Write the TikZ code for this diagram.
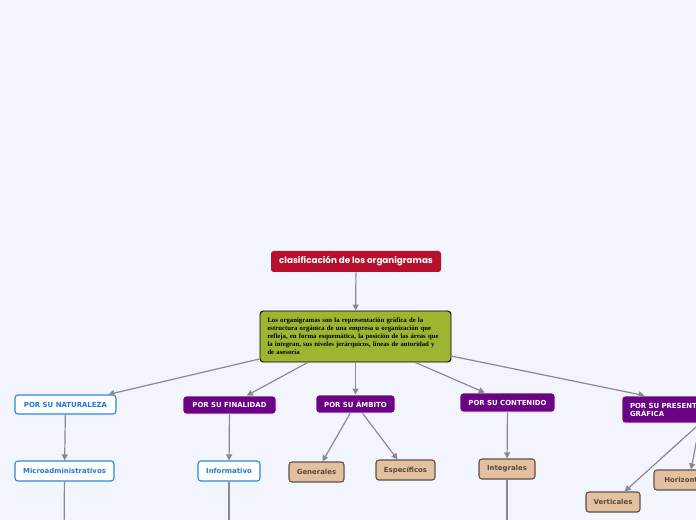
\documentclass[tikz,border=0pt]{standalone}
\usepackage{fontspec}
\setmainfont{DejaVu Sans}
\newfontfamily\serifbold{Liberation Serif}
\newfontfamily\titlefont{Poppins}
\usetikzlibrary{arrows.meta}
\definecolor{bgcol}{HTML}{F2F5FE}
\definecolor{titlered}{HTML}{B7102E}
\definecolor{olive}{HTML}{9DB530}
\definecolor{purp}{HTML}{6A0485}
\definecolor{nodeblue}{HTML}{2A86E2}
\definecolor{textblue}{HTML}{1C78D6}
\definecolor{tanfill}{HTML}{E3C09F}
\definecolor{tanborder}{HTML}{5E5045}
\definecolor{tantext}{HTML}{56483C}
\definecolor{linegrey}{HTML}{8A8A8E}
\tikzset{
  box/.style={rounded corners=2.2pt, font=\fontsize{5.2}{6.4}\selectfont\bfseries, inner sep=0pt, align=center},
  bluebox/.style={box, draw=nodeblue, line width=0.8pt, fill=white, text=textblue},
  purpbox/.style={box, fill=purp, draw=white, line width=0.6pt, text=white},
  tanbox/.style={box, fill=tanfill, draw=tanborder, line width=0.8pt, text=tantext},
  conn/.style={draw=linegrey, line width=0.9pt, -{Triangle[length=4.5pt,width=4.5pt]}},
  plain/.style={draw=linegrey, line width=0.9pt},
}
\begin{document}
\begin{tikzpicture}[x=0.75pt,y=-0.75pt]
\fill[bgcol] (0,0) rectangle (696,520);
\useasboundingbox (0,0) rectangle (696,520);
\clip (0,0) rectangle (696,520);

\node[fill=titlered, rounded corners=2pt, minimum width=170*0.75pt, minimum height=21*0.75pt, inner sep=0pt,
  text=white, font=\titlefont\bfseries\fontsize{6.6}{8}\selectfont] (title) at (356,261.5) {clasificación de los organigramas};

\node[fill=olive, draw=black, line width=0.7pt, rounded corners=2.5pt, minimum width=191*0.75pt, minimum height=51*0.75pt,
  inner sep=0pt, align=left, text width=176*0.75pt, font=\serifbold\bfseries\fontsize{5.05}{6}\selectfont] (center) at (355.5,336.5)
  {Los organigramas son la representación gráfica de la\\
   estructura orgánica de una empresa u organización que\\
   refleja, en forma esquemática, la posición de las áreas que\\
   la integran, sus niveles jerárquicos, líneas de autoridad y\\
   de asesoría};

\node[bluebox, minimum width=101*0.75pt, minimum height=19*0.75pt] (nat) at (65.5,404.5) {POR SU NATURALEZA};
\node[purpbox, minimum width=93*0.75pt, minimum height=18*0.75pt] (fin) at (229.5,405) {POR SU FINALIDAD};
\node[purpbox, minimum width=79*0.75pt, minimum height=18*0.75pt] (amb) at (355.5,404) {POR SU ÁMBITO};
\node[purpbox, minimum width=95*0.75pt, minimum height=19*0.75pt] (con) at (507.5,402.5) {POR SU CONTENIDO};
\node[purpbox, minimum width=156*0.75pt, minimum height=27*0.75pt, align=left, text width=140*0.75pt] (pre) at (700,409.5)
  {POR SU PRESENTACIÓN\\GRÁFICA};

\node[bluebox, minimum width=99*0.75pt, minimum height=20*0.75pt] (micro) at (64.5,471) {Microadministrativos};
\node[bluebox, minimum width=62*0.75pt, minimum height=20*0.75pt] (inf) at (229,471) {Informativo};
\node[tanbox, minimum width=55*0.75pt, minimum height=20*0.75pt] (gen) at (316.5,472) {Generales};
\node[tanbox, minimum width=59*0.75pt, minimum height=20*0.75pt] (esp) at (405.5,470) {Específicos};
\node[tanbox, minimum width=56*0.75pt, minimum height=20*0.75pt] (int) at (507,469) {Integrales};
\node[tanbox, minimum width=54*0.75pt, minimum height=20*0.75pt] (ver) at (613,502) {Verticales};
\node[tanbox, minimum width=70*0.75pt, minimum height=20*0.75pt] (hor) at (689,480) {Horizontales};

\coordinate (mdown) at (64,540);
\coordinate (idown) at (229,540);
\coordinate (tdown) at (507,540);

\draw[conn] (title) -- (center);
\draw[conn] (center) -- (nat);
\draw[conn] (center) -- (fin);
\draw[conn] (center) -- (amb);
\draw[conn] (center) -- (con);
\draw[conn] (center) -- ([xshift=23*0.75pt]pre.north west);
\draw[conn] (nat) -- (micro);
\draw[conn] (fin) -- (inf);
\draw[conn] (amb) -- (gen);
\draw[conn] (amb) -- (esp);
\draw[conn] (con) -- (int);
\draw[conn] (pre.south) -- (ver);
\draw[conn] (pre.south) -- (hor);
\draw[plain] (micro) -- (mdown);
\draw[plain] (inf) -- (idown);
\draw[plain] (int) -- (tdown);
\end{tikzpicture}
\end{document}
